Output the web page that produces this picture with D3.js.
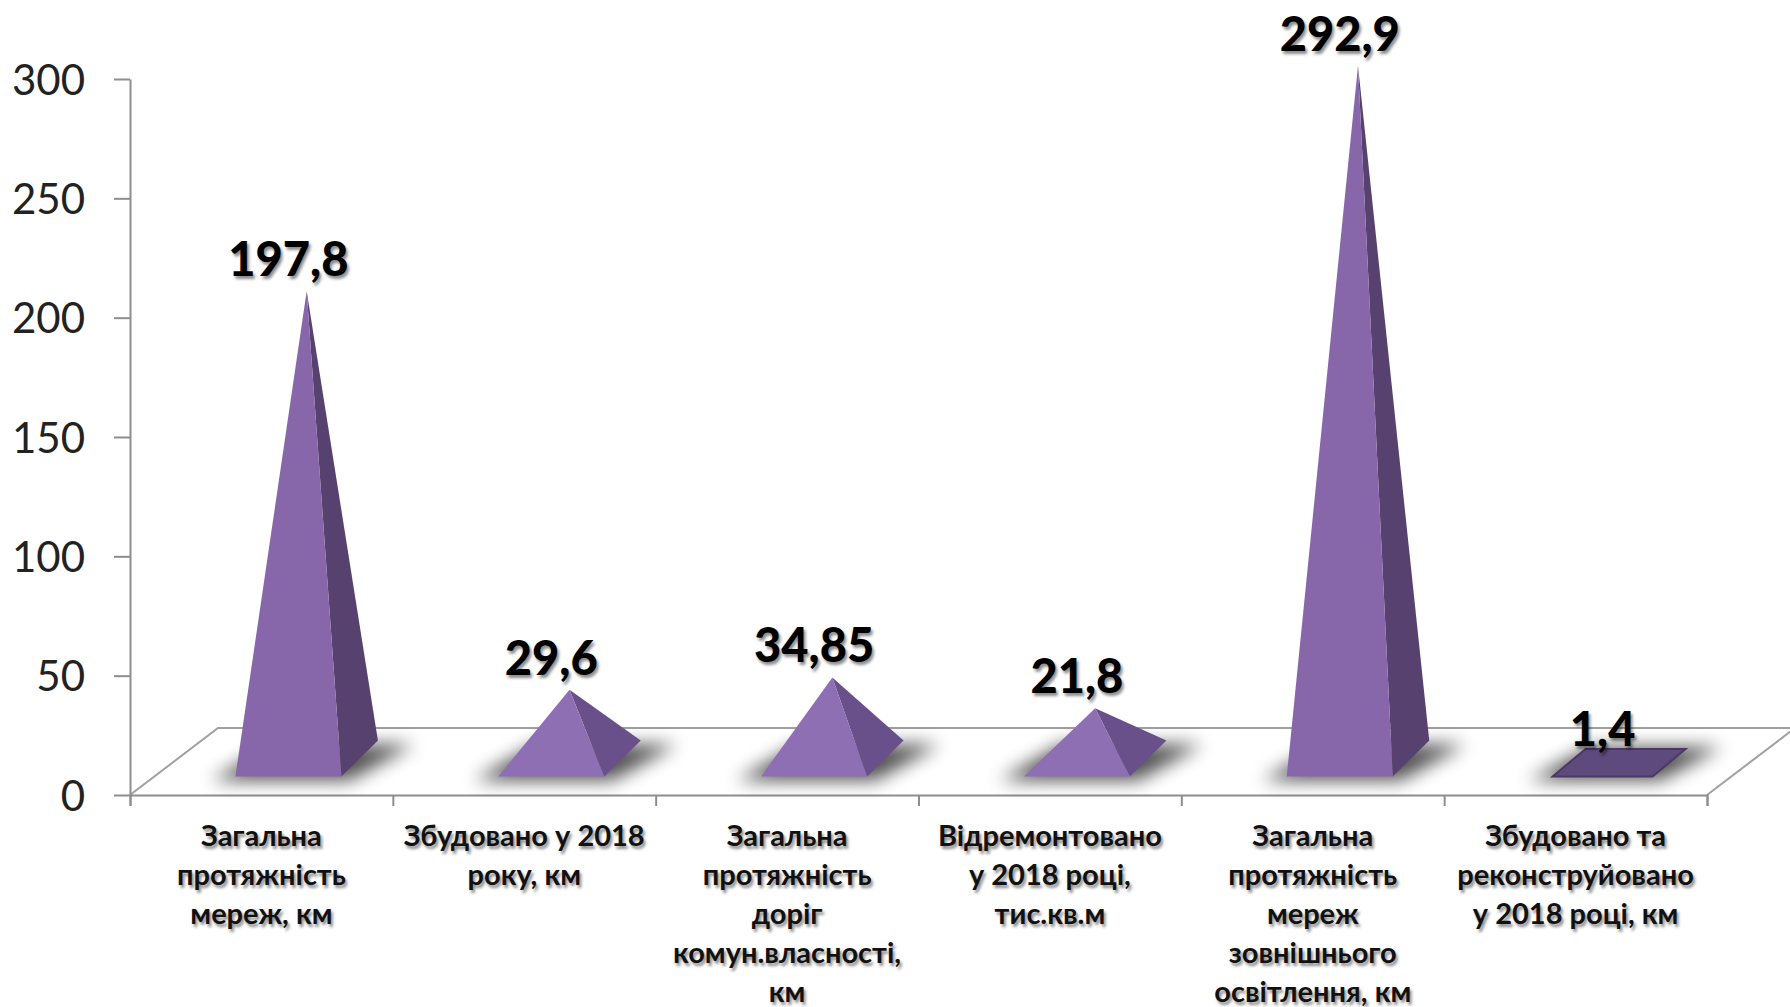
<!DOCTYPE html>
<html><head><meta charset="utf-8">
<script src="https://cdn.jsdelivr.net/npm/d3@7"></script>
<style>
html,body{margin:0;background:#fff;overflow:hidden}
text{font-family:Lato,Carlito,sans-serif}
.cat{font-weight:700;font-size:29px;fill:#111;text-shadow:2px 3px 3px rgba(0,0,0,.45)}
.val{font-weight:900;font-size:47px;fill:#000;text-shadow:2px 3px 3px rgba(0,0,0,.45)}
.yt{font-size:42px;fill:#222}
</style></head><body>
<svg id="c" width="1790" height="1007"></svg>
<script>
const categories=[
 ["Загальна","протяжність","мереж, км"],
 ["Збудовано у 2018","року, км"],
 ["Загальна","протяжність","доріг","комун.власності,","км"],
 ["Відремонтовано","у 2018 році,","тис.кв.м"],
 ["Загальна","протяжність","мереж","зовнішнього","освітлення, км"],
 ["Збудовано та","реконструйовано","у 2018 році, км"]];
const values=[197.8,29.6,34.85,21.8,292.9,1.4];
const valueLabels=["197,8","29,6","34,85","21,8","292,9","1,4"];
const yTicks=[0,50,100,150,200,250,300];

const svg=d3.select("#c");
const axisX0=130,axisX1=1707,y0=795,y300=79;
const x=d3.scaleBand().domain(d3.range(values.length)).range([axisX0,axisX1]);
const xTick=d3.scaleLinear().domain([0,values.length]).range([axisX0,axisX1]);
const y=d3.scaleLinear().domain([0,300]).range([y0,y300]);
const floorMidY=760;
const h=d3.scaleLinear().domain([0,300]).range([floorMidY,floorMidY-711]);
const depthX=36.5,depthY=18.5,baseHalf=53;

const defs=svg.append("defs");
defs.append("filter").attr("id","sh").attr("x","-40%").attr("y","-80%").attr("width","180%").attr("height","260%")
  .append("feGaussianBlur").attr("stdDeviation",9);

const floorDX=88,floorDY=67;
svg.append("path").attr("fill","none").attr("stroke","#a0a0a0").attr("stroke-width",2)
  .attr("d",d3.line()([[axisX0,y0],[axisX0+floorDX,y0-floorDY],[axisX1+floorDX,y0-floorDY],[axisX1,y0]]));

const ax=svg.append("g").attr("transform",`translate(${axisX0},0)`)
  .call(d3.axisLeft(y).tickValues(yTicks).tickSize(16).tickPadding(29).tickSizeOuter(0));
ax.selectAll("path,line").attr("stroke","#8e8e8e").attr("stroke-width",2);
ax.selectAll("text").attr("class","yt").attr("font-size",null).attr("font-family",null).attr("fill",null).attr("dy","0.36em");
const bx=svg.append("g").attr("transform",`translate(0,${y0})`)
  .call(d3.axisBottom(xTick).ticks(6).tickSize(11).tickFormat(""));
bx.selectAll("path,line").attr("stroke","#8e8e8e").attr("stroke-width",2);

const cx=i=>x(i)+x.bandwidth()/2+27;
values.forEach((v,i)=>{
  const g=svg.append("g");
  const flat=v<5;
  const c=cx(i),fy=floorMidY+depthY-2,by=flat?749:floorMidY-depthY-1;
  const half=flat?50:baseHalf;
  const fl=c-half,fr=c+half,br=fr+(flat?33:depthX),bl=fl+(flat?33:depthX);
  const apex=[c+depthX/2,h(v)];
  g.append("path").attr("filter","url(#sh)").attr("fill","#000").attr("opacity",.68)
    .attr("d",d3.line()([[fl-24,fy+4],[fr+8,fy+4],[br+36,flat?by-2:by+4],[fl+38,flat?by-2:by+4]])+"Z");
  if(flat){
    g.append("path").attr("fill","#5f4a7d").attr("stroke","#4b3866").attr("stroke-width",2)
     .attr("d",d3.line()([[fl,fy],[fr,fy],[br,by],[bl,by]])+"Z");
  }else{
    const tall=v>100;
    g.append("path").attr("fill",tall?"#57426f":"#69508a").attr("d",d3.line()([[fr,fy],[br,by],apex])+"Z");
    g.append("path").attr("fill",tall?"#8767a9":"#8e6fb3").attr("d",d3.line()([[fl,fy],[fr,fy],apex])+"Z");
  }
  const ly=flat?h(v)-11:h(v)-15;
  svg.append("text").attr("class","val").attr("text-anchor","middle")
    .attr("x",c).attr("y",ly).text(valueLabels[i]);
});

categories.forEach((lines,i)=>{
  const t=svg.append("text").attr("class","cat").attr("text-anchor","middle");
  lines.forEach((l,k)=>t.append("tspan").attr("x",x(i)+x.bandwidth()/2).attr("y",846+k*39).text(l));
});
</script></body></html>
